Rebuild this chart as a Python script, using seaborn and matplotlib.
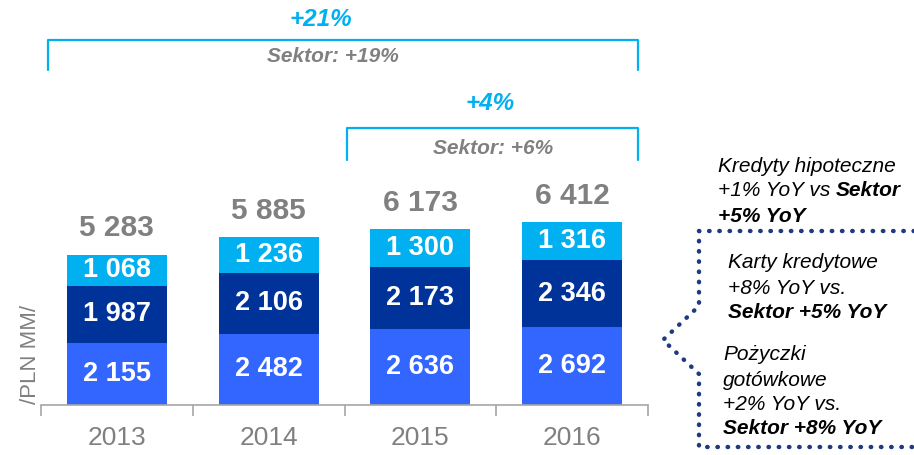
import matplotlib
matplotlib.use("Agg")
import matplotlib.pyplot as plt
import seaborn as sns
import pandas as pd
import numpy as np

# ---- data ----
years = ["2013", "2014", "2015", "2016"]
cash_loans = [2155, 2482, 2636, 2692]      # Pożyczki gotówkowe
credit_cards = [1987, 2106, 2173, 2346]    # Karty kredytowe
mortgages = [1068, 1236, 1300, 1316]       # Kredyty hipoteczne
totals = [5283, 5885, 6173, 6412]
y_label = "/PLN MM/"

C_BOTTOM = "#3366FF"
C_MID = "#003399"
C_TOP = "#00B0F0"
GRAY = "#808080"
NAVY = "#1F3A80"

sns.set_theme(style="white")
plt.rcParams["font.family"] = ["Liberation Sans", "DejaVu Sans"]

W, H = 914, 455
fig = plt.figure(figsize=(W / 100, H / 100), dpi=100)

# main axes in pixel placement
ax_left, ax_right, ax_base = 41, 648, 405
ax = fig.add_axes([ax_left / W, (H - ax_base) / H, (ax_right - ax_left) / W, ax_base / H])
ax.patch.set_alpha(0)

df = pd.DataFrame({
    "year": years,
    "s1": np.array(cash_loans),
    "s2": np.array(cash_loans) + np.array(credit_cards),
    "s3": np.array(cash_loans) + np.array(credit_cards) + np.array(mortgages),
})

bw = 0.66
sns.barplot(data=df, x="year", y="s3", color=C_TOP, width=bw, ax=ax, saturation=1, linewidth=0)
sns.barplot(data=df, x="year", y="s2", color=C_MID, width=bw, ax=ax, saturation=1, linewidth=0)
sns.barplot(data=df, x="year", y="s1", color=C_BOTTOM, width=bw, ax=ax, saturation=1, linewidth=0)

px_per_unit = 0.0288
ax.set_ylim(0, ax_base / px_per_unit)
ax.set_xlim(-0.5, 3.5)

for i in range(len(years)):
    b0 = 0
    for val in (cash_loans[i], credit_cards[i], mortgages[i]):
        ax.text(i, b0 + val / 2, f"{val:,}".replace(",", " "), ha="center", va="center",
                color="white", fontsize=19.5, fontweight="bold")
        b0 += val
    ax.annotate(f"{totals[i]:,}".replace(",", " "), xy=(i, b0), xytext=(0, 9),
                textcoords="offset points", ha="center", va="bottom",
                color=GRAY, fontsize=21.5, fontweight="bold")

for s in ["top", "right", "left"]:
    ax.spines[s].set_visible(False)
ax.spines["bottom"].set_color("#A6A6A6")
ax.spines["bottom"].set_linewidth(1.2)
ax.set_yticks([])
ax.set_xlabel("")
ax.set_ylabel("")
ax.set_xticks(range(len(years)))
ax.set_xticklabels(years, fontsize=19, color=GRAY)
ax.tick_params(axis="x", length=0, pad=15)
ax.set_xticks([-0.5, 0.5, 1.5, 2.5, 3.5], minor=True)
ax.tick_params(axis="x", which="minor", length=8, width=1.2, color="#A6A6A6", direction="out")
ax.tick_params(axis="x", which="minor", bottom=True)

# overlay axes in pixel coordinates
ov = fig.add_axes([0, 0, 1, 1])
ov.set_xlim(0, W)
ov.set_ylim(H, 0)
ov.axis("off")
ov.patch.set_alpha(0)

ov.text(30, 354, y_label, rotation=90, ha="center", va="center", color=GRAY, fontsize=16)

# brackets
def bracket(x0, x1, ytop, ybot):
    ov.plot([x0, x0, x1, x1], [ybot, ytop, ytop, ybot], color=C_TOP, lw=1.6,
            solid_joinstyle="round")

bracket(48, 638, 40, 70)
ov.text(321, 20, "+21%", ha="center", va="center", color=C_TOP, fontsize=17.5,
        fontweight="bold", fontstyle="italic")
ov.text(333, 57, "Sektor: +19%", ha="center", va="center", color=GRAY, fontsize=15,
        fontweight="bold", fontstyle="italic")
bracket(347, 638, 128, 160)
ov.text(490, 103, "+4%", ha="center", va="center", color=C_TOP, fontsize=17.5,
        fontweight="bold", fontstyle="italic")
ov.text(493, 148, "Sektor: +6%", ha="center", va="center", color=GRAY, fontsize=15,
        fontweight="bold", fontstyle="italic")

# dotted bracket on right
ov.plot([914, 699, 699, 663, 699, 699, 914], [231, 231, 306, 340, 374, 447, 447],
        color=NAVY, lw=3.2, linestyle=(0, (0.1, 2.2)), dash_capstyle="round")

fs = 15
def line(x, y, parts):
    prev = None
    for txt, bold in parts:
        kw = dict(fontsize=fs, fontstyle="italic", color="black",
                  fontweight="bold" if bold else "normal", va="center", ha="left")
        if prev is None:
            prev = ov.text(x, y, txt, **kw)
        else:
            prev = ov.annotate(txt, xy=(1, 0.5), xycoords=prev, **kw)

line(718, 166, [("Kredyty hipoteczne", False)])
line(718, 191, [("+1% YoY vs ", False), ("Sektor", True)])
line(718, 216, [("+5% YoY", True)])

line(728, 263, [("Karty kredytowe", False)])
line(728, 288, [("+8% YoY vs.", False)])
line(728, 313, [("Sektor +5% YoY", True)])

line(723, 355, [("Pożyczki", False)])
line(723, 380, [("gotówkowe", False)])
line(723, 405, [("+2% YoY vs.", False)])
line(723, 429, [("Sektor +8% YoY", True)])

fig.savefig("out.png", dpi=100)
